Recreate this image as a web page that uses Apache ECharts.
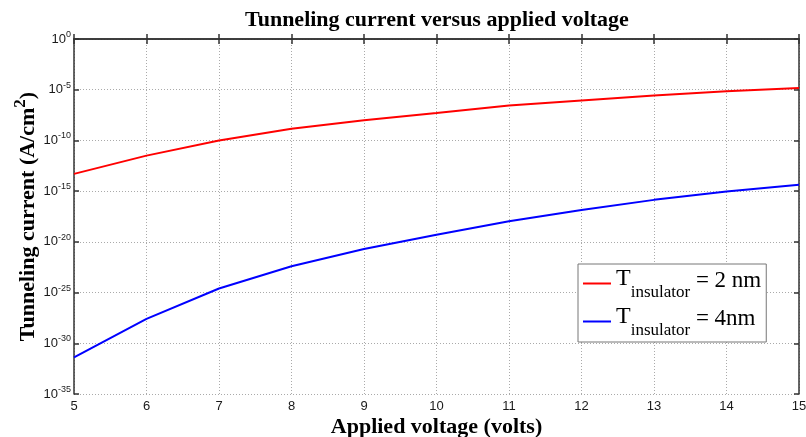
<!DOCTYPE html>
<html>
<head>
<meta charset="utf-8">
<script src="https://cdn.jsdelivr.net/npm/echarts@6/dist/echarts.min.js"></script>
<style>
  html, body { margin: 0; padding: 0; background: #fff; }
  #chart { width: 806px; height: 437px; }
</style>
</head>
<body>
<div id="chart"></div>
<script>
// applied voltage (volts)
var voltage = [5, 6, 7, 8, 9, 10, 11, 12, 13, 14, 15];
// log10 of tunneling current density (A/cm^2)
var log2nm = [-13.3, -11.5, -10.0, -8.85, -8.0, -7.3, -6.56, -6.06, -5.57, -5.16, -4.84];
var log4nm = [-31.4, -27.6, -24.6, -22.4, -20.7, -19.3, -17.97, -16.86, -15.86, -15.03, -14.37];
// y ticks are decades 10^0 .. 10^-35
var yTicks = [-35, -30, -25, -20, -15, -10, -5, 0];

var serif = '"Liberation Serif", "Times New Roman", serif';
var sans = '"Liberation Sans", Arial, sans-serif';

function pairs(xs, ys) {
  return xs.map(function (x, i) { return [x, ys[i]]; });
}

var chart = echarts.init(document.getElementById('chart'));

// top / right axes only close the box (matlab style)
var boxAxis = {
  axisLine: { show: true, lineStyle: { color: '#333', width: 1.5 } },
  axisTick: { show: true, inside: true, length: 5, lineStyle: { color: '#333', width: 1.5 } },
  axisLabel: { show: false },
  splitLine: { show: false }
};

var option = {
  animation: false,
  title: {
    text: 'Tunneling current versus applied voltage',
    left: 240,
    top: 4,
    textStyle: { fontFamily: serif, fontWeight: 'bold', fontSize: 22, color: '#000' }
  },
  grid: { left: 74, right: 7, top: 39, bottom: 43, containLabel: false, outerBoundsMode: 'none' },
  legend: {
    left: 578,
    top: 264,
    orient: 'vertical',
    backgroundColor: '#fff',
    borderColor: '#777',
    borderWidth: 1,
    padding: [2, 5, 3, 5],
    itemGap: 3,
    icon: 'rect',
    itemWidth: 28,
    itemHeight: 2,
    data: ['2nm', '4nm'],
    formatter: function (name) {
      var tail = name === '2nm' ? ' = 2 nm' : ' = 4nm';
      return '{t|T}{s|insulator}{e|' + tail + '}';
    },
    textStyle: {
      fontFamily: serif,
      color: '#000',
      rich: {
        t: { fontFamily: serif, fontSize: 24, lineHeight: 24, padding: [0, 0, 10, 0], color: '#000' },
        s: { fontFamily: serif, fontSize: 17, lineHeight: 16, padding: [18, 0, 0, 0], color: '#000' },
        e: { fontFamily: serif, fontSize: 23, lineHeight: 28, padding: [0, 0, 6, 0], color: '#000' }
      }
    }
  },
  xAxis: [
    {
      type: 'value',
      min: 5,
      max: 15,
      interval: 1,
      name: 'Applied voltage (volts)',
      nameLocation: 'middle',
      nameGap: 22,
      nameMoveOverlap: false,
      nameTextStyle: { fontFamily: serif, fontWeight: 'bold', fontSize: 22, color: '#000' },
      axisLine: { show: true, lineStyle: { color: '#333', width: 1.5 } },
      axisTick: { show: true, inside: true, length: 5, lineStyle: { color: '#333', width: 1.5 } },
      axisLabel: { margin: 6, fontFamily: sans, fontSize: 13, color: '#1a1a1a' },
      splitLine: { show: true, lineStyle: { type: [1, 2], color: '#aaa', width: 1 } }
    },
    Object.assign({ type: 'value', position: 'top', min: 5, max: 15, interval: 1 }, boxAxis)
  ],
  yAxis: [
    {
      type: 'value',
      min: yTicks[0],
      max: yTicks[yTicks.length - 1],
      interval: 5,
      name: 'Tunneling current (A/cm{s|2})',
      nameLocation: 'middle',
      nameGap: 30,
      nameMoveOverlap: false,
      nameTextStyle: {
        fontFamily: serif, fontWeight: 'bold', fontSize: 22, color: '#000',
        rich: { s: { fontFamily: serif, fontWeight: 'bold', fontSize: 17, padding: [0, 0, 15, 0], color: '#000' } }
      },
      axisLine: { show: true, lineStyle: { color: '#333', width: 1.5 } },
      axisTick: { show: true, inside: true, length: 5, lineStyle: { color: '#333', width: 1.5 } },
      axisLabel: {
        margin: 3,
        formatter: function (v) { return '{b|10}{e|' + v + '}'; },
        rich: {
          b: { fontFamily: sans, fontSize: 13, color: '#1a1a1a' },
          e: { fontFamily: sans, fontSize: 9, color: '#1a1a1a', padding: [0, 0, 9, 0] }
        }
      },
      splitLine: { show: true, lineStyle: { type: [1, 2], color: '#aaa', width: 1 } }
    },
    Object.assign({ type: 'value', position: 'right', min: -35, max: 0, interval: 5 }, boxAxis)
  ],
  series: [
    {
      name: '2nm',
      type: 'line',
      data: pairs(voltage, log2nm),
      showSymbol: false,
      symbol: 'none',
      lineStyle: { color: '#ff0000', width: 2 },
      itemStyle: { color: '#ff0000' }
    },
    {
      name: '4nm',
      type: 'line',
      data: pairs(voltage, log4nm),
      showSymbol: false,
      symbol: 'none',
      lineStyle: { color: '#0000ff', width: 2 },
      itemStyle: { color: '#0000ff' }
    }
  ]
};

chart.setOption(option);
</script>
</body>
</html>
